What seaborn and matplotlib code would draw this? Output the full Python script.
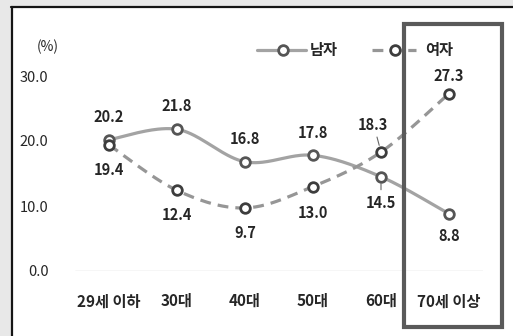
import numpy as np
import matplotlib
matplotlib.use("Agg")
import matplotlib.pyplot as plt
import seaborn as sns
from matplotlib.patches import Rectangle
from matplotlib.lines import Line2D

categories = ["29세 이하", "30대", "40대", "50대", "60대", "70세 이상"]
male = [20.2, 21.8, 16.8, 17.8, 14.5, 8.8]
female = [19.4, 12.4, 9.7, 13.0, 18.3, 27.3]
series_names = ["남자", "여자"]
y_ticks = [0, 10, 20, 30]
unit_label = "(%)"

# label offsets (pixels) relative to each marker: (dx, dy)
male_offsets = [(0, 23), (0, 23), (0, 23), (0, 22), (0, -26), (0, -22)]
female_offsets = [(0, -25), (0, -25), (0, -25), (0, -26), (-8, 27), (0, 18)]

sns.set_theme(style="white")
plt.rcParams["font.family"] = ["Noto Sans CJK KR", "DejaVu Sans"]

W, H = 513, 336
TXT = "#262626"
MALE_LINE, MALE_EDGE = "#a3a3a3", "#555555"
FEM_LINE, FEM_EDGE = "#969696", "#3d3d3d"


def fx(px):
    return px / W


def fy(py):
    return 1 - py / H


def smooth(xs, ys, n=40):
    """Bezier smoothing through the points (Catmull-Rom style control points)."""
    pts = np.column_stack([xs, ys]).astype(float)
    ext = np.vstack([pts[0], pts, pts[-1]])
    out = []
    t = np.linspace(0, 1, n)[:, None]
    for i in range(len(pts) - 1):
        p0, p1, p2, p3 = ext[i], ext[i + 1], ext[i + 2], ext[i + 3]
        c1 = p1 + (p2 - p0) / 6
        c2 = p2 - (p3 - p1) / 6
        seg = (1 - t) ** 3 * p1 + 3 * (1 - t) ** 2 * t * c1 + 3 * (1 - t) * t ** 2 * c2 + t ** 3 * p2
        out.append(seg if i == 0 else seg[1:])
    s = np.vstack(out)
    return s[:, 0], s[:, 1]


fig = plt.figure(figsize=(W / 100, H / 100), dpi=100, facecolor="#e8e8e8")

# white panel with dark left/top border
fig.add_artist(Rectangle((fx(11), 0), 1 - fx(11), fy(7), transform=fig.transFigure,
                         facecolor="white", edgecolor="none", zorder=-2))
fig.add_artist(Line2D([fx(11.5), fx(11.5)], [0, fy(7)], transform=fig.transFigure,
                      color="#151515", lw=1.6, zorder=-1))
fig.add_artist(Line2D([fx(11), 1], [fy(7), fy(7)], transform=fig.transFigure,
                      color="#151515", lw=1.6, zorder=-1))

ax = fig.add_axes([fx(75), fy(271), fx(483) - fx(75), (271 - 56.5) / H])
ax.set_facecolor("none")
x = np.arange(len(categories))

sx, sy = smooth(x, male)
sns.lineplot(x=sx, y=sy, ax=ax, color=MALE_LINE, lw=2.3, sort=False, estimator=None, zorder=2)
sx, sy = smooth(x, female)
sns.lineplot(x=sx, y=sy, ax=ax, color=FEM_LINE, lw=2.3, sort=False, estimator=None, zorder=2,
             dashes=False, linestyle=(0, (3.4, 2.2)))

sns.scatterplot(x=x, y=male, ax=ax, marker="o", s=48, facecolor="white",
                edgecolor=MALE_EDGE, linewidth=2.0, zorder=3, clip_on=False)
sns.scatterplot(x=x, y=female, ax=ax, marker="o", s=48, facecolor="white",
                edgecolor=FEM_EDGE, linewidth=2.0, zorder=3, clip_on=False)

for xi, v, (dx, dy) in zip(x, male, male_offsets):
    ax.annotate(f"{v:.1f}", (xi, v), xytext=(dx, dy), textcoords="offset pixels",
                ha="center", va="center", fontsize=10.5, fontweight="bold", color=TXT)
for xi, v, (dx, dy) in zip(x, female, female_offsets):
    ax.annotate(f"{v:.1f}", (xi, v), xytext=(dx, dy), textcoords="offset pixels",
                ha="center", va="center", fontsize=10.5, fontweight="bold", color=TXT)

# leader lines for the two labels near the crossing at 60대
ax.annotate("", (x[4], female[4]), xytext=(-4, 15), textcoords="offset pixels",
            arrowprops=dict(arrowstyle="-", color="#666666", lw=0.8, shrinkA=0, shrinkB=5))
ax.annotate("", (x[4], male[4]), xytext=(0, -13), textcoords="offset pixels",
            arrowprops=dict(arrowstyle="-", color="#666666", lw=0.8, shrinkA=0, shrinkB=5))

ax.axhline(0, color="#d4d4d4", lw=1.0, zorder=1)
ax.set_xlim(-0.5, len(categories) - 0.5)
ax.set_ylim(0, 33)
ax.set_xticks(x)
ax.set_xticklabels(categories, fontsize=11, fontweight="bold", color=TXT)
ax.set_yticks(y_ticks)
ax.set_yticklabels([f"{v:.1f}" for v in y_ticks], fontsize=10.5, color=TXT)
ax.tick_params(axis="x", length=0, pad=16)
ax.tick_params(axis="y", length=0, pad=19)
ax.set_xlabel("")
ax.set_ylabel("")
sns.despine(ax=ax, left=True, bottom=True)

fig.text(fx(37), fy(47), unit_label, fontsize=10, color=TXT, ha="left", va="center")

# legend
ly = fy(50)
fig.add_artist(Line2D([fx(257), fx(306)], [ly, ly], transform=fig.transFigure,
                      color=MALE_LINE, lw=2.3, zorder=4))
fig.add_artist(Line2D([fx(283)], [ly], transform=fig.transFigure, marker="o", ms=7,
                      mfc="white", mec=MALE_EDGE, mew=2.0, zorder=5))
fig.text(fx(310), ly, series_names[0], fontsize=11, fontweight="bold", color=TXT,
         ha="left", va="center")
fig.add_artist(Line2D([fx(372), fx(416)], [ly, ly], transform=fig.transFigure,
                      color=FEM_LINE, lw=2.3, linestyle=(0, (3.4, 2.2)), zorder=4))
fig.add_artist(Line2D([fx(395)], [ly], transform=fig.transFigure, marker="o", ms=7,
                      mfc="white", mec=FEM_EDGE, mew=2.0, zorder=5))
fig.text(fx(425), ly, series_names[1], fontsize=11, fontweight="bold", color=TXT,
         ha="left", va="center")

# highlight frame around the last age group
fig.add_artist(Rectangle((fx(404), fy(327)), fx(502) - fx(404), fy(24) - fy(327),
                         transform=fig.transFigure, facecolor="none",
                         edgecolor="#5a5a5a", lw=3.0, zorder=6))

fig.savefig("out.png", dpi=100, facecolor=fig.get_facecolor())
